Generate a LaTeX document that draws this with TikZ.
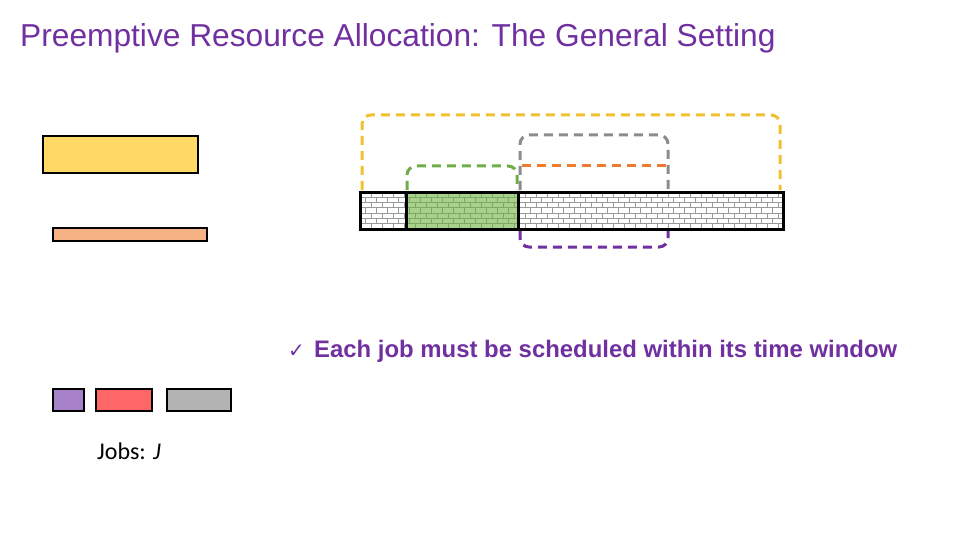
\documentclass[tikz,border=0pt]{standalone}
\usepackage{fontspec}
\setmainfont{Liberation Sans}
\newfontfamily\calibri{Carlito}
\newfontfamily\symb{DejaVu Sans}
\usetikzlibrary{positioning}

\definecolor{titlepurple}{HTML}{7030A0}
\definecolor{jobyellow}{HTML}{FFD966}
\definecolor{joborange}{HTML}{F4B183}
\definecolor{jobpurple}{HTML}{A680C8}
\definecolor{jobred}{HTML}{FF6666}
\definecolor{jobgray}{HTML}{B3B3B3}
\definecolor{slotgreen}{HTML}{A9D18E}
\definecolor{brickgray}{HTML}{9A9A9A}
\definecolor{brickgreen}{HTML}{7FA860}
\definecolor{wyellow}{HTML}{F0C030}
\definecolor{wgreen}{HTML}{70AD47}
\definecolor{wgray}{HTML}{8C8C8C}
\definecolor{worange}{HTML}{ED7D31}
\definecolor{wpurple}{HTML}{7030A0}

\begin{document}
\begin{tikzpicture}[x=1pt,y=-1pt]
    % Styles
    \tikzstyle{job} = [draw=black, line width=2.2pt, inner sep=0pt, outer sep=0pt, anchor=north west]
    \tikzstyle{slot} = [inner sep=0pt, outer sep=0pt, anchor=north west, minimum height=37pt]
    \tikzstyle{window} = [line width=3pt, dash pattern=on 9pt off 6pt, rounded corners=9pt]
    \tikzstyle{brick} = [line width=1pt]

    \useasboundingbox (0,0) rectangle (960,540);

    % Titre
    \node[anchor=base west, inner sep=0pt, text=titlepurple, font=\fontsize{31.7}{36}\selectfont] (title) at (20,47) {Preemptive Resource Allocation: The General Setting};

    % Jobs on the left
    \node[job, fill=jobyellow, minimum width=155pt, minimum height=37pt] (jobY) at (43,136) {};
    \node[job, fill=joborange, minimum width=154pt, minimum height=13pt] (jobO) at (53,228) {};
    \node[job, fill=jobpurple, minimum width=31pt, minimum height=22pt] (jobP) at (53,389) {};
    \node[job, fill=jobred, minimum width=56pt, minimum height=22pt, right=12pt of jobP] (jobR) {};
    \node[job, fill=jobgray, minimum width=64pt, minimum height=22pt, right=15pt of jobR] (jobG) {};
    \node[anchor=base west, inner sep=0pt, font=\calibri\fontsize{24}{28}\selectfont] (jobslabel) at (97,459) {Jobs: \textit{J}};

    % Resource bar
    \node[slot, fill=white, minimum width=46pt] (slotA) at (360,192) {};
    \node[slot, fill=slotgreen, minimum width=112pt, right=0pt of slotA] (slotB) {};
    \node[slot, fill=white, minimum width=265pt, right=0pt of slotB] (slotC) {};

    % Bricks
    \foreach \seg/\col in {slotA/brickgray, slotB/brickgreen, slotC/brickgray}{
        \begin{scope}
            \clip (\seg.north west) rectangle (\seg.south east);
            \foreach \r in {0,...,6}{
                \draw[brick, \col] (360,192+\r*5.3) -- (783,192+\r*5.3);
                \foreach \c in {0,...,39}
                    \draw[brick, \col] ({360+\c*11+mod(\r,2)*5.5},{192+\r*5.3}) -- ++(0,5.3);
            }
        \end{scope}
    }
    \foreach \seg in {slotA, slotB, slotC}
        \draw[line width=3pt] (\seg.north west) rectangle (\seg.south east);

    % Time windows
    \draw[window, wyellow] ([xshift=2pt,yshift=2pt]slotA.north west) -- ++(0,-75) -| ([xshift=-3pt,yshift=2pt]slotC.north east);
    \draw[window, wgreen] ([xshift=1pt,yshift=2pt]slotB.north west) -- ++(0,-24) -| ([xshift=-1pt,yshift=2pt]slotB.north east);
    \draw[window, wgray] ([xshift=2pt,yshift=2pt]slotC.north west) -- ++(0,-55) -| ([xshift=150pt,yshift=2pt]slotC.north west);
    \draw[window, worange] ([xshift=4pt,yshift=26pt]slotC.north west) -- ([xshift=148pt,yshift=26pt]slotC.north west);
    \draw[window, wpurple] ([xshift=2pt,yshift=-2pt]slotC.south west) -- ++(0,16) -| ([xshift=150pt,yshift=-2pt]slotC.south west);

    % Rule
    \node[anchor=base west, inner sep=0pt, text=titlepurple, font=\symb\fontsize{20}{24}\selectfont] (check) at (288,357) {✓};
    \node[anchor=base west, inner sep=0pt, text=titlepurple, font=\bfseries\fontsize{23.9}{28}\selectfont] (rule) at (314,357) {Each job must be scheduled within its time window};
\end{tikzpicture}
\end{document}
